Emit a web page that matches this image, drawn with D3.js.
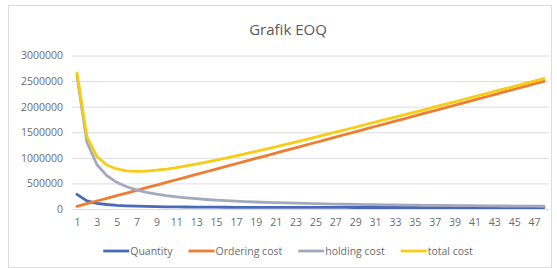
<!DOCTYPE html>
<html>
<head>
<meta charset="utf-8">
<script src="https://cdn.jsdelivr.net/npm/d3@7"></script>
<style>
  body { margin: 0; background: #fff; }
  text { font-family: "Open Sans", sans-serif; }
</style>
</head>
<body>
<div id="chart"></div>
<script>
let width = 557;
let height = 268;

// Periods 1..48 on the x axis
const periods = d3.range(1, 49);
const xTickLabels = periods.filter(d => d % 2 === 1);
const yTicks = [0, 500000, 1000000, 1500000, 2000000, 2500000, 3000000];

// Values
const quantity = [287000, 160000, 112000, 88000, 72000, 62000, 55000, 50000, 46000, 43000,
  41000, 39000, 37500, 36000, 35000, 34000, 33500, 33000, 32500, 32000,
  31500, 31000, 31000, 30500, 30500, 30000, 30000, 30000, 29500, 29500,
  29500, 29000, 29000, 29000, 29000, 28500, 28500, 28500, 28500, 28000,
  28000, 28000, 28000, 28000, 28000, 27500, 27500, 27500];
const orderingCost = [52000, 104000, 156000, 208000, 260000, 312000, 364000, 416000, 468000, 520000,
  572000, 624000, 676000, 728000, 780000, 832000, 884000, 936000, 988000, 1040000,
  1092000, 1144000, 1196000, 1248000, 1300000, 1352000, 1404000, 1456000, 1508000, 1560000,
  1612000, 1664000, 1716000, 1768000, 1820000, 1872000, 1924000, 1976000, 2028000, 2080000,
  2132000, 2184000, 2236000, 2288000, 2340000, 2392000, 2444000, 2496000];
const holdingCost = [2610000, 1305000, 870000, 652000, 522000, 435000, 373000, 326000, 290000, 261000,
  237000, 217000, 201000, 186000, 174000, 163000, 154000, 145000, 137000, 130000,
  124000, 119000, 113000, 109000, 104000, 100000, 97000, 93000, 90000, 87000,
  84000, 82000, 79000, 77000, 75000, 72000, 71000, 69000, 67000, 65000,
  64000, 62000, 61000, 59000, 58000, 57000, 56000, 54000];
const totalCost = [2662000, 1409000, 1026000, 860000, 782000, 747000, 737000, 742000, 758000, 781000,
  809000, 841000, 877000, 914000, 954000, 995000, 1038000, 1081000, 1125000, 1170000,
  1216000, 1263000, 1309000, 1357000, 1404000, 1452000, 1501000, 1549000, 1598000, 1647000,
  1696000, 1746000, 1795000, 1845000, 1895000, 1944000, 1995000, 2045000, 2095000, 2145000,
  2196000, 2246000, 2297000, 2347000, 2398000, 2449000, 2500000, 2550000];

const seriesNames = ["Quantity", "Ordering cost", "holding cost", "total cost"];
const seriesValues = [quantity, orderingCost, holdingCost, totalCost];
const colors = ["#4a69b8", "#ed7d31", "#a4a8bf", "#f7cc12"];

const svg = d3.select("#chart")
  .append("svg")
  .attr("width", width)
  .attr("height", height);

// Chart frame
svg.append("rect")
  .attr("x", 8.5)
  .attr("y", 5.5)
  .attr("width", 543)
  .attr("height", 262)
  .attr("fill", "#fff")
  .attr("stroke", "#dcdcdc");

// Title
svg.append("text")
  .attr("x", 288)
  .attr("y", 35)
  .attr("text-anchor", "middle")
  .attr("font-size", "15px")
  .attr("fill", "#595959")
  .text("Grafik EOQ");

const plotLeft = 72, plotRight = 549;

const x = d3.scalePoint()
  .domain(periods)
  .range([plotLeft, plotRight])
  .padding(0.5);

const y = d3.scaleLinear()
  .domain([0, 3000000])
  .range([209, 55.5]);

// Y axis with gridlines
const yAxis = svg.append("g")
  .attr("transform", `translate(${plotLeft},0)`)
  .call(d3.axisLeft(y)
    .tickValues(yTicks)
    .tickFormat(d3.format("d"))
    .tickSize(-(plotRight - plotLeft))
    .tickPadding(9));
yAxis.select(".domain").remove();
yAxis.selectAll("line").attr("stroke", "#dcdcdc");
yAxis.selectAll("text")
  .attr("font-size", "10.5px")
  .attr("fill", "#6b6b6b")
  .style("font-family", "'Open Sans', sans-serif");

// X axis labels
const xAxis = svg.append("g")
  .attr("transform", "translate(0,209)")
  .call(d3.axisBottom(x)
    .tickValues(xTickLabels)
    .tickSize(0)
    .tickPadding(10));
xAxis.select(".domain").remove();
xAxis.selectAll("text")
  .attr("font-size", "10.5px")
  .attr("fill", "#6b6b6b")
  .style("font-family", "'Open Sans', sans-serif");

// Series lines
const line = d3.line()
  .x((d, i) => x(periods[i]))
  .y(d => y(d));

seriesValues.forEach((vals, i) => {
  svg.append("path")
    .datum(vals)
    .attr("fill", "none")
    .attr("stroke", colors[i])
    .attr("stroke-width", 2.8)
    .attr("stroke-linejoin", "round")
    .attr("stroke-linecap", "round")
    .attr("d", line);
});

// Legend
const legend = svg.append("g").attr("transform", "translate(0,251)");
let lx = 0;
const items = seriesNames.map((name, i) => {
  const g = legend.append("g");
  g.append("line")
    .attr("x1", 0).attr("x2", 26)
    .attr("y1", 0).attr("y2", 0)
    .attr("stroke", colors[i])
    .attr("stroke-width", 2.8);
  const t = g.append("text")
    .attr("x", 27)
    .attr("y", 3.5)
    .attr("font-size", "10.5px")
    .attr("fill", "#6b6b6b")
    .text(name);
  const w = 27 + t.node().getComputedTextLength();
  g.attr("transform", `translate(${lx},0)`);
  lx += w + 16;
  return g;
});
const legendWidth = lx - 16;
legend.attr("transform", `translate(${288 - legendWidth / 2},251)`);
</script>
</body>
</html>
